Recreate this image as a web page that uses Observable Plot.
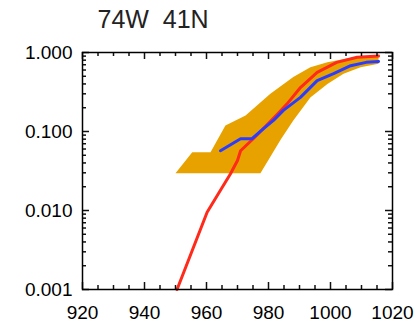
<!DOCTYPE html>
<html>
<head>
<meta charset="utf-8">
<script src="https://cdn.jsdelivr.net/npm/d3@7"></script>
<script src="https://cdn.jsdelivr.net/npm/@observablehq/plot@0.6"></script>
<style>
  body { margin: 0; background: #ffffff; }
  svg text { white-space: pre; }
</style>
</head>
<body>
<div id="chart"></div>
<script>
const title = "74W  41N";

// red line (pressure, probability)
const redX = [950.5, 960.2, 964.5, 967.7, 970, 971, 975.5, 983, 986, 990.3, 995.7, 1002, 1008.6, 1015.5];
const redY = [0.001, 0.0095, 0.018, 0.029, 0.043, 0.057, 0.084, 0.168, 0.224, 0.36, 0.56, 0.75, 0.87, 0.9];

// blue line
const blueX = [964.5, 968.3, 971, 974.7, 978.4, 981.6, 984.8, 990.3, 995.7, 1001, 1006.5, 1011.5, 1015.5];
const blueY = [0.057, 0.07, 0.081, 0.081, 0.109, 0.138, 0.185, 0.27, 0.44, 0.54, 0.68, 0.75, 0.77];

// orange band: upper edge and lower edge
const upperX = [950, 955.4, 961.3, 966.1, 972.6, 980.6, 988, 993.5, 999, 1007.4, 1015.5];
const upperY = [0.0296, 0.0547, 0.0547, 0.119, 0.16, 0.30, 0.49, 0.65, 0.75, 0.87, 0.92];
const lowerX = [950, 977.4, 984, 988, 993.5, 999, 1004.2, 1009.7, 1015.5];
const lowerY = [0.0296, 0.0296, 0.08, 0.138, 0.27, 0.40, 0.54, 0.65, 0.72];

const xTicks = [920, 940, 960, 980, 1000, 1020];
const xMinor = [925, 930, 935, 945, 950, 955, 965, 970, 975, 985, 990, 995, 1005, 1010, 1015];
const yTicks = [0.001, 0.01, 0.1, 1];
const yMinor = [0.002,0.003,0.004,0.005,0.006,0.007,0.008,0.009,
                0.02,0.03,0.04,0.05,0.06,0.07,0.08,0.09,
                0.2,0.3,0.4,0.5,0.6,0.7,0.8,0.9];

const red = redX.map((x, i) => ({x, y: redY[i]}));
const blue = blueX.map((x, i) => ({x, y: blueY[i]}));
const band = upperX.map((x, i) => ({x, y: upperY[i]}))
  .concat(lowerX.map((x, i) => ({x, y: lowerY[i]})).reverse());

const W = 417, H = 322;
const mL = 82, mR = 25, mT = 52, mB = 33;
const fw = W - mL - mR, fh = H - mT - mB;
const xDom = [920, 1020], yDom = [0.001, 1];
const majL = 7, minL = 4;
// tick length in pixels converted to data units of each scale
const dxU = len => len * (xDom[1] - xDom[0]) / fw;
const dyF = len => Math.pow(10, len * Math.log10(yDom[1] / yDom[0]) / fh);
const tks = {stroke: "#111111", strokeWidth: 1.5};

const bottomTicks = (data, len) => Plot.ruleX(data, {x: d => d, y1: yDom[0], y2: yDom[0] * dyF(len), ...tks});
const topTicks = (data, len) => Plot.ruleX(data, {x: d => d, y1: yDom[1], y2: yDom[1] / dyF(len), ...tks});
const leftTicks = (data, len) => Plot.ruleY(data, {y: d => d, x1: xDom[0], x2: xDom[0] + dxU(len), ...tks});
const rightTicks = (data, len) => Plot.ruleY(data, {y: d => d, x1: xDom[1], x2: xDom[1] - dxU(len), ...tks});

const chart = Plot.plot({
  width: W,
  height: H,
  marginLeft: mL,
  marginRight: mR,
  marginTop: mT,
  marginBottom: mB,
  style: {fontFamily: "'Liberation Sans', Arial, sans-serif", background: "white"},
  x: {domain: xDom, label: null},
  y: {type: "log", domain: yDom, label: null},
  marks: [
    Plot.line(band, {x: "x", y: "y", fill: "#e8a200", stroke: "none"}),
    Plot.line(red, {x: "x", y: "y", stroke: "#ff2a1a", strokeWidth: 3, curve: "linear"}),
    Plot.line(blue, {x: "x", y: "y", stroke: "#2a3cff", strokeWidth: 3, curve: "linear"}),
    // inward ticks on all four sides
    bottomTicks(xTicks, majL), bottomTicks(xMinor, minL),
    topTicks(xTicks, majL), topTicks(xMinor, minL),
    leftTicks(yTicks, majL), leftTicks(yMinor, minL),
    rightTicks(yTicks, majL), rightTicks(yMinor, minL),
    Plot.frame({stroke: "black", strokeWidth: 1.5}),
    Plot.axisX({anchor: "bottom", ticks: xTicks, tickFormat: d => String(d), tickSize: 0, tickPadding: 16, fontSize: 19, label: null}),
    Plot.axisY({anchor: "left", ticks: yTicks, tickFormat: d3.format(".3f"), tickSize: 0, tickPadding: 10, fontSize: 19, label: null}),
    Plot.text([title], {text: d => d, frameAnchor: "top-left", textAnchor: "start", lineAnchor: "top", dx: 15, dy: -42, fontSize: 25, fill: "#222"})
  ]
});
document.getElementById("chart").appendChild(chart);
</script>
</body>
</html>
